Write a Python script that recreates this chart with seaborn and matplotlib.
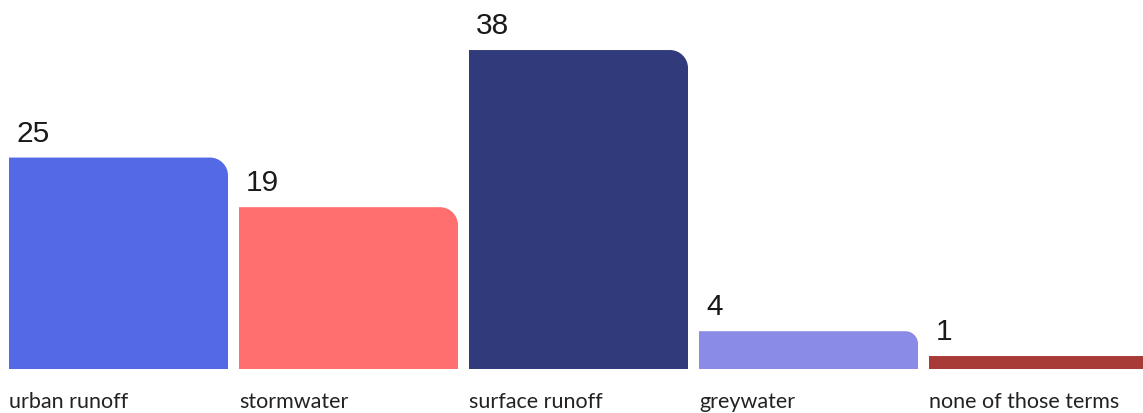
import matplotlib
matplotlib.use("Agg")
import matplotlib.pyplot as plt
from matplotlib.path import Path
from matplotlib.patches import PathPatch
import seaborn as sns
import pandas as pd

categories = ["urban runoff", "stormwater", "surface runoff", "greywater", "none of those terms"]
values = [25, 19, 38, 4, 1]
colors = ["#5469E5", "#FF6F6F", "#313B7B", "#8A8AE7", "#A93B37"]

sns.set_theme(style="white")
plt.rcParams["font.family"] = ["Lato", "DejaVu Sans"]

DPI = 100
fig = plt.figure(figsize=(11.43, 4.14), dpi=DPI)
ax = fig.add_axes([0, 0, 1, 1])

df = pd.DataFrame({"cat": categories, "val": values})
BAR_W = 219 / 230
sns.barplot(data=df, x="cat", y="val", hue="cat", palette=colors, width=BAR_W,
            legend=False, ax=ax, saturation=1, linewidth=0)

# scales: 230 px per category, ~8.27 px per unit
px_x = 230.0
px_y = 8.27
zero_px = 414 - 365.3  # px from bottom of figure to value 0
left = -BAR_W / 2 - 9 / px_x
ax.set_xlim(left, left + 1143 / px_x)
bottom = -zero_px / px_y
ax.set_ylim(bottom, bottom + 414 / px_y)
ax.set_axis_off()

base = -4.7 / px_y  # bars extend slightly below zero
k = 0.5523
R = 18.0  # px
for p in list(ax.patches):
    x0 = p.get_x()
    w, h = p.get_width(), p.get_height()
    fc = p.get_facecolor()
    p.set_visible(False)
    x1, y1 = x0 + w, p.get_y() + h
    y0 = base
    r_px = min(R, (y1 - y0) * px_y / 3)
    rx, ry = r_px / px_x, r_px / px_y
    verts = [(x0, y0), (x0, y1), (x1 - rx, y1),
             (x1 - rx + k * rx, y1), (x1, y1 - ry + k * ry), (x1, y1 - ry),
             (x1, y0), (x0, y0)]
    codes = [Path.MOVETO, Path.LINETO, Path.LINETO,
             Path.CURVE4, Path.CURVE4, Path.CURVE4,
             Path.LINETO, Path.CLOSEPOLY]
    ax.add_patch(PathPatch(Path(verts, codes), facecolor=fc, edgecolor="none", clip_on=False))

for i, (c, v) in enumerate(zip(categories, values)):
    xl = i - BAR_W / 2
    ax.annotate(str(v), xy=(xl, v), xytext=(7 * 72 / DPI, 17 * 72 / DPI),
                textcoords="offset points", ha="left", va="baseline",
                fontsize=21.5, color="#1a1a1a", family=["Liberation Sans", "DejaVu Sans"])
    ax.annotate(c, xy=(xl, 0), xytext=(0, -42.7 * 72 / DPI),
                textcoords="offset points", ha="left", va="baseline",
                fontsize=15.5, color="#222222")

fig.savefig("out.png", dpi=DPI)
